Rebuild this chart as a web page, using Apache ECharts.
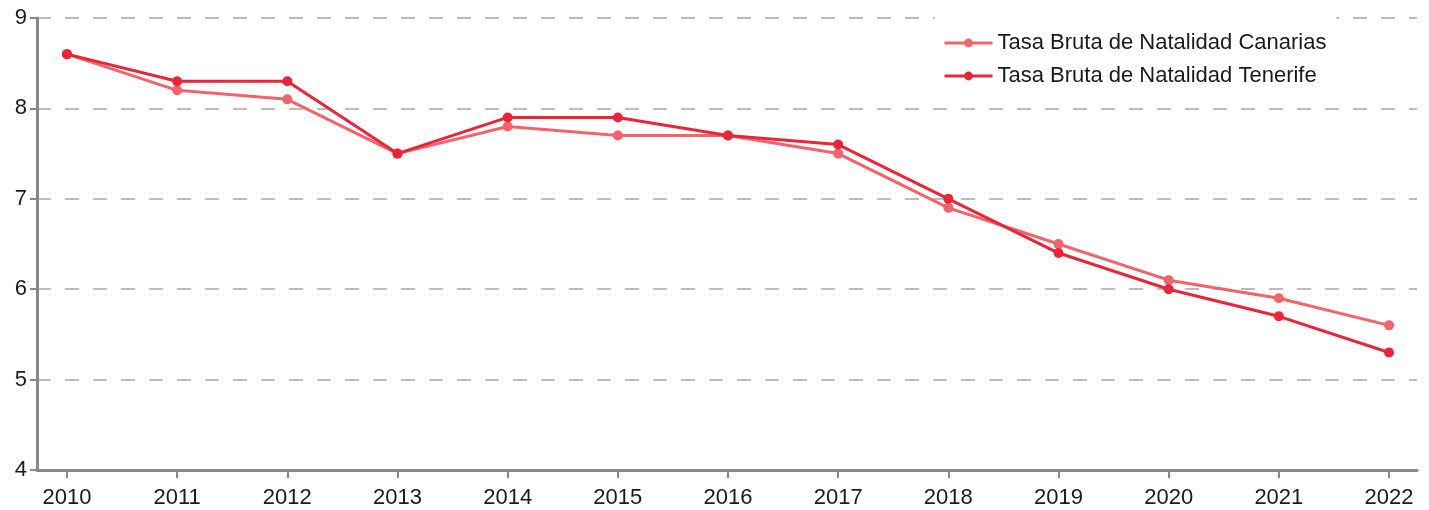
<!DOCTYPE html>
<html>
<head>
<meta charset="utf-8">
<script src="https://cdn.jsdelivr.net/npm/echarts@6/dist/echarts.min.js"></script>
<style>
  html, body { margin: 0; padding: 0; background: #fff; }
  #chart { width: 1429px; height: 510px; }
</style>
</head>
<body>
<div id="chart"></div>
<script>
// data
const years = [2010, 2011, 2012, 2013, 2014, 2015, 2016, 2017, 2018, 2019, 2020, 2021, 2022];
const canarias = [8.6, 8.2, 8.1, 7.5, 7.8, 7.7, 7.7, 7.5, 6.9, 6.5, 6.1, 5.9, 5.6];
const tenerife = [8.6, 8.3, 8.3, 7.5, 7.9, 7.9, 7.7, 7.6, 7.0, 6.4, 6.0, 5.7, 5.3];
const yTicks = [4, 5, 6, 7, 8, 9];
const names = ['Tasa Bruta de Natalidad Canarias', 'Tasa Bruta de Natalidad Tenerife'];

const font = "'Liberation Sans', Arial, sans-serif";
const axisGrey = '#888';

const chart = echarts.init(document.getElementById('chart'));

chart.setOption({
  animation: false,
  grid: { left: 37, right: 12, top: 18, bottom: 40, containLabel: false },
  legend: {
    data: names,
    left: 935,
    top: 12,
    orient: 'vertical',
    backgroundColor: '#fff',
    padding: [20, 10, 8, 8],
    itemGap: 11,
    itemWidth: 48,
    itemHeight: 11,
    lineStyle: { width: 3 },
    textStyle: { fontFamily: font, fontSize: 22, color: '#1a1a1a' }
  },
  xAxis: {
    type: 'value',
    min: 2009.728,
    max: 2022.254,
    axisLine: { show: true, lineStyle: { color: axisGrey, width: 3 } },
    axisTick: { show: true, customValues: years, length: 8, lineStyle: { color: axisGrey, width: 2 } },
    axisLabel: {
      customValues: years,
      margin: 17,
      fontFamily: font,
      fontSize: 22,
      color: '#1a1a1a',
      formatter: v => String(Math.round(v))
    },
    splitLine: { show: false }
  },
  yAxis: {
    type: 'value',
    min: 4,
    max: 9,
    interval: 1,
    axisLine: { show: true, lineStyle: { color: axisGrey, width: 3 } },
    axisTick: { show: true, customValues: yTicks, length: 7, lineStyle: { color: axisGrey, width: 2 } },
    axisLabel: { customValues: yTicks, margin: 10, fontFamily: font, fontSize: 22, color: '#1a1a1a' },
    splitLine: {
      show: true,
      lineStyle: { color: '#a6a6a6', width: 1.5, type: [14, 14] }
    }
  },
  series: [
    {
      name: names[0],
      type: 'line',
      data: years.map((y, i) => [y, canarias[i]]),
      color: '#f2646c',
      lineStyle: { width: 3 },
      symbol: 'circle',
      symbolSize: 10,
      z: 2
    },
    {
      name: names[1],
      type: 'line',
      data: years.map((y, i) => [y, tenerife[i]]),
      color: '#e8263a',
      lineStyle: { width: 3 },
      symbol: 'circle',
      symbolSize: 10,
      z: 3
    }
  ]
});
</script>
</body>
</html>
